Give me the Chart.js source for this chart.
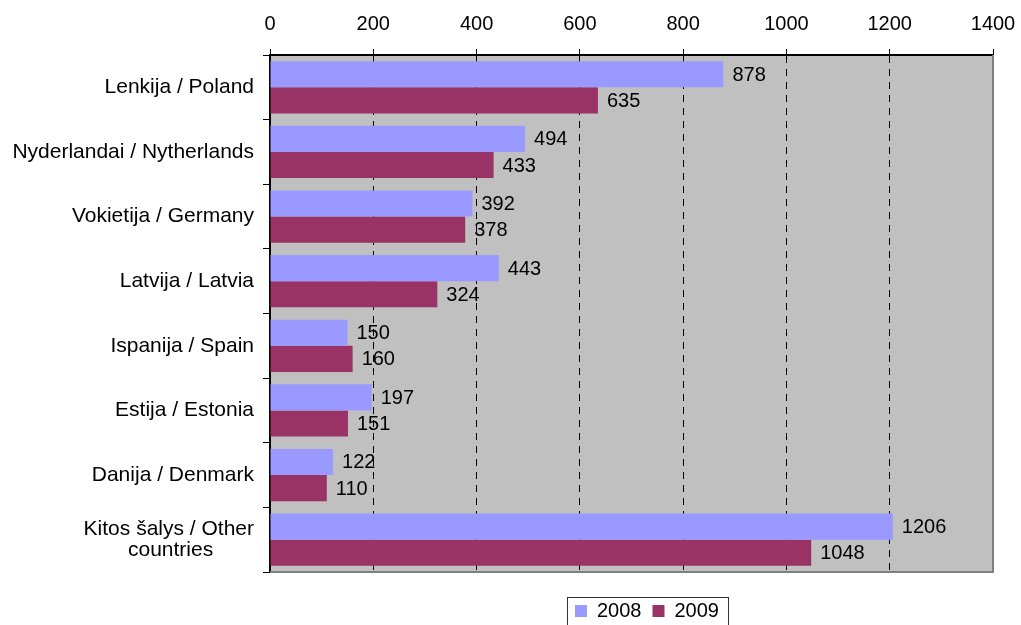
<!DOCTYPE html>
<html lang="en">
<head>
    <meta charset="UTF-8">
    <title>Bar chart</title>
    <script src="https://cdn.jsdelivr.net/npm/chart.js@4.4.1/dist/chart.umd.js"></script>
    <style>
        body { margin: 0; background: #fff; }
        #wrap { width: 1021px; height: 625px; }
    </style>
</head>
<body>
    <div id="wrap"><canvas id="chart" width="1021" height="625"></canvas></div>
    <script>
        // data
        const categories = [
            'Lenkija / Poland',
            'Nyderlandai / Nytherlands',
            'Vokietija / Germany',
            'Latvija / Latvia',
            'Ispanija / Spain',
            'Estija / Estonia',
            'Danija / Denmark',
            ['Kitos šalys / Other', 'countries       ']
        ];
        const series2008 = [878, 494, 392, 443, 150, 197, 122, 1206];
        const series2009 = [635, 433, 378, 324, 160, 151, 110, 1048];
        const seriesNames = ['2008', '2009'];
        const xTicks = [0, 200, 400, 600, 800, 1000, 1200, 1400];

        const FONT = 'Arial, "Liberation Sans", sans-serif';

        // grey plot area, right/bottom frame, value labels, legend frame
        const framePlugin = {
            id: 'frame',
            afterLayout(chart) {
                const lg = chart.legend;
                const pad = lg.options.labels.padding;
                lg.left = 575 - pad;
                lg.right = 1021;
                lg.top = 601 - pad;
                lg.bottom = lg.top + lg.height;
            },
            beforeDraw(chart) {
                const { ctx, chartArea: a } = chart;
                ctx.save();
                ctx.fillStyle = '#C0C0C0';
                ctx.fillRect(a.left, a.top, a.right - a.left, a.bottom - a.top);
                ctx.restore();
            },
            afterDatasetsDraw(chart) {
                const { ctx, chartArea: a } = chart;
                ctx.save();
                ctx.strokeStyle = '#808080';
                ctx.lineWidth = 2;
                ctx.beginPath();
                ctx.moveTo(a.right, a.top);
                ctx.lineTo(a.right, a.bottom);
                ctx.lineTo(a.left, a.bottom);
                ctx.stroke();

                ctx.fillStyle = '#000';
                ctx.font = '20px ' + FONT;
                ctx.textAlign = 'left';
                ctx.textBaseline = 'middle';
                chart.data.datasets.forEach((ds, i) => {
                    chart.getDatasetMeta(i).data.forEach((bar, j) => {
                        ctx.fillText(String(ds.data[j]), bar.x + 9, bar.y + 1);
                    });
                });

                ctx.strokeStyle = '#333';
                ctx.lineWidth = 1;
                ctx.strokeRect(567.5, 597.5, 161, 40);
                ctx.restore();
            }
        };

        const ctx = document.getElementById('chart').getContext('2d');
        new Chart(ctx, {
            type: 'bar',
            data: {
                labels: categories,
                datasets: [{
                    label: seriesNames[0],
                    data: series2008,
                    backgroundColor: '#9999FF',
                    borderWidth: 0
                }, {
                    label: seriesNames[1],
                    data: series2009,
                    backgroundColor: '#993366',
                    borderWidth: 0
                }]
            },
            options: {
                indexAxis: 'y',
                responsive: false,
                animation: false,
                barPercentage: 1,
                categoryPercentage: 0.81,
                layout: { padding: { left: 0, right: 28, top: 0, bottom: 12 } },
                scales: {
                    x: {
                        position: 'top',
                        min: 0,
                        max: 1400,
                        afterBuildTicks(scale) {
                            scale.ticks = xTicks.map(v => ({ value: v }));
                        },
                        afterFit(scale) {
                            scale.height = 55;
                            scale.paddingLeft = 0;
                            scale.paddingRight = 0;
                        },
                        grid: {
                            color: c => (c.tick && (c.tick.value === 0 || c.tick.value === 1400)) ? 'rgba(0,0,0,0)' : '#000',
                            tickColor: '#000',
                            tickBorderDash: [],
                            tickLength: 6,
                            lineWidth: 1
                        },
                        border: { display: true, color: '#000', width: 2, dash: [7, 6] },
                        ticks: {
                            color: '#000',
                            font: { family: FONT, size: 20 },
                            padding: 13,
                            maxRotation: 0,
                            callback: v => String(v)
                        }
                    },
                    y: {
                        afterFit(scale) { scale.width = 270; },
                        grid: {
                            drawOnChartArea: false,
                            drawTicks: true,
                            offset: true,
                            tickLength: 7,
                            color: '#000',
                            tickColor: '#000'
                        },
                        border: { display: true, color: '#000', width: 2 },
                        ticks: {
                            color: '#000',
                            font: { family: FONT, size: 21, lineHeight: 1.0 },
                            padding: 9,
                            autoSkip: false
                        }
                    }
                },
                plugins: {
                    legend: {
                        position: 'bottom',
                        align: 'start',
                        labels: {
                            color: '#000',
                            font: { family: FONT, size: 20 },
                            boxWidth: 12,
                            boxHeight: 12,
                            padding: 11
                        }
                    },
                    tooltip: { enabled: false }
                }
            },
            plugins: [framePlugin]
        });
    </script>
</body>
</html>
